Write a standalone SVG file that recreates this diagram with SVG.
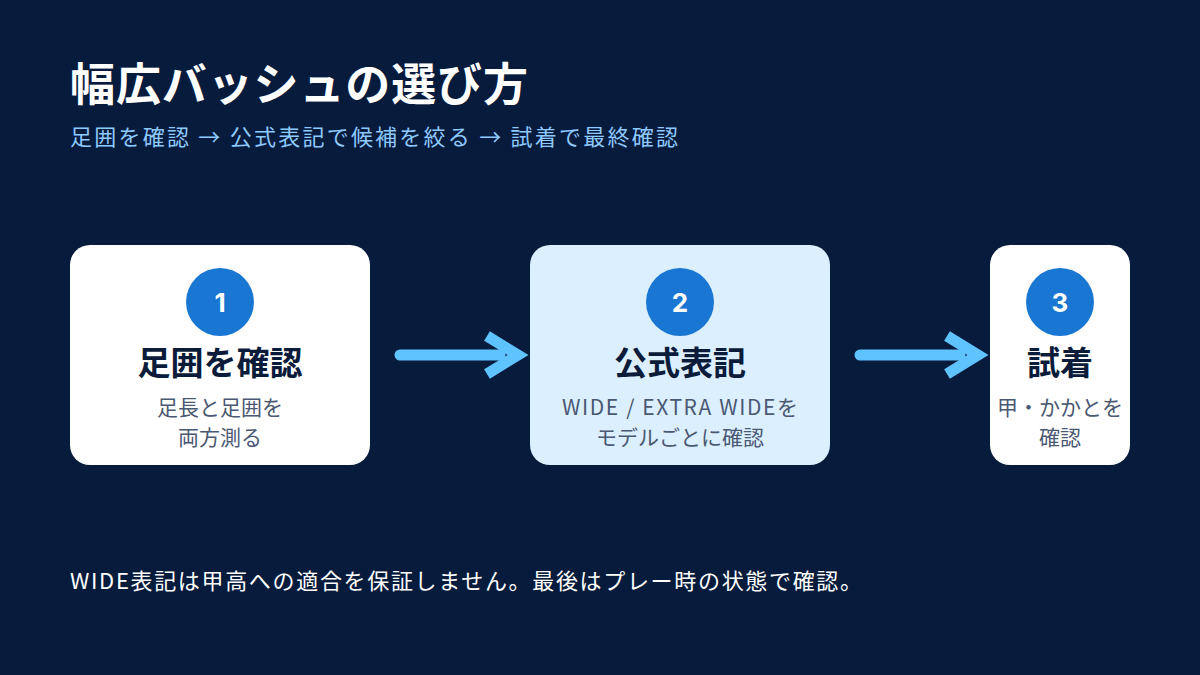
<svg xmlns="http://www.w3.org/2000/svg" width="1200" height="675" viewBox="0 0 1200 675">
<style>
text{font-family:"Noto Sans CJK JP","Noto Sans",sans-serif}
.t{font-weight:700;fill:#0b1b3a;font-size:33px;text-anchor:middle}
.s{fill:#4a5873;font-size:21px;text-anchor:middle}
.n{fill:#fff;font-size:26px;font-weight:700;text-anchor:middle;font-family:"Inter","Noto Sans",sans-serif}
.c{fill:#1976d2}
.ln{stroke:#5ec3ff;stroke-width:11;stroke-linecap:round;fill:none}
.hd{stroke:#5ec3ff;stroke-width:11;fill:none}
</style>
<rect width="1200" height="675" fill="#071b3c"/>
<text x="70" y="101" font-size="45" font-weight="700" fill="#fff" textLength="458">幅広バッシュの選び方</text>
<text x="70" y="145" font-size="22" fill="#8ec9ff" textLength="608">足囲を確認 → 公式表記で候補を絞る → 試着で最終確認</text>
<g id="node1">
<rect x="70" y="245" width="300" height="220" rx="20" fill="#fff"/>
<circle cx="220" cy="302" r="34" class="c"/>
<text x="220" y="312" class="n">1</text>
<text x="220" y="375" class="t">足囲を確認</text>
<text x="220" y="415" class="s">足長と足囲を</text>
<text x="220" y="445" class="s">両方測る</text>
</g>
<g id="node2">
<rect x="530" y="245" width="300" height="220" rx="20" fill="#dcefff"/>
<circle cx="680" cy="302" r="34" class="c"/>
<text x="680" y="312" class="n">2</text>
<text x="680" y="375" class="t">公式表記</text>
<text x="680" y="415" class="s" textLength="236">WIDE / EXTRA WIDEを</text>
<text x="680" y="445" class="s">モデルごとに確認</text>
</g>
<g id="node3">
<rect x="990" y="245" width="140" height="220" rx="20" fill="#fff"/>
<circle cx="1060" cy="302" r="34" class="c"/>
<text x="1060" y="312" class="n">3</text>
<text x="1060" y="375" class="t" font-size="30">試着</text>
<text x="1060" y="415" class="s" font-size="18">甲・かかとを</text>
<text x="1060" y="445" class="s" font-size="18">確認</text>
</g>
<g id="connectors">
<line x1="400" y1="355" x2="500" y2="355" class="ln"/>
<polyline points="487,336 518,355 487,374" class="hd"/>
<line x1="860" y1="355" x2="960" y2="355" class="ln"/>
<polyline points="947,336 978,355 947,374" class="hd"/>
</g>
<text x="70" y="589" font-size="22" fill="#fff" textLength="792">WIDE表記は甲高への適合を保証しません。最後はプレー時の状態で確認。</text>
</svg>
